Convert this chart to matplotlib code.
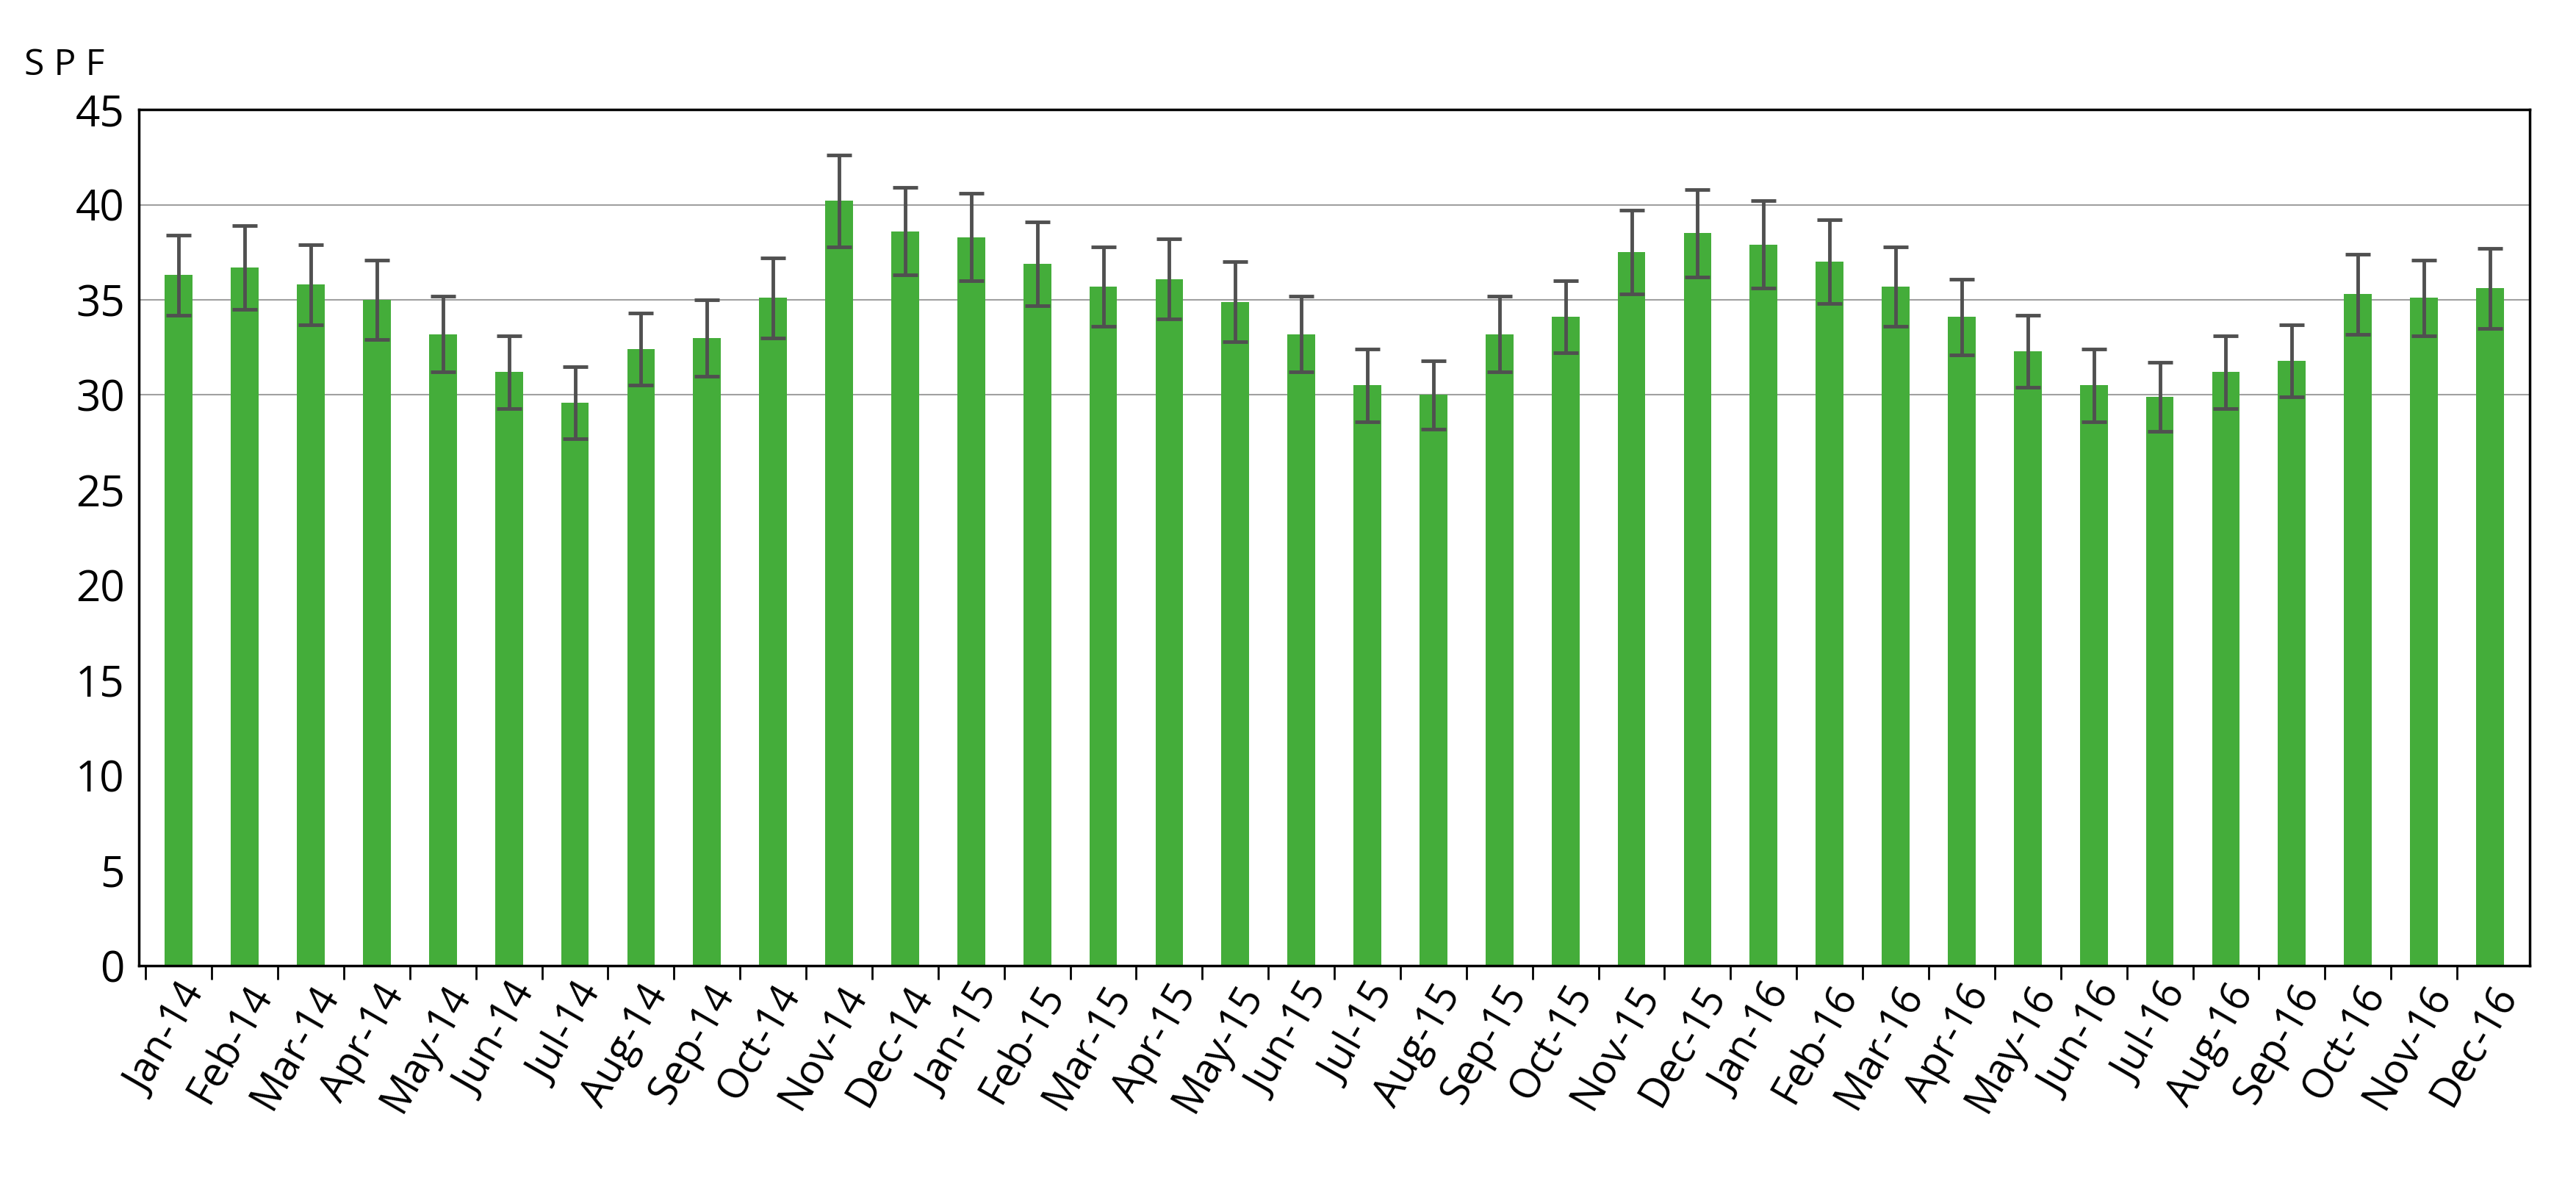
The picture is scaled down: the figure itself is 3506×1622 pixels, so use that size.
import numpy as np
import matplotlib
matplotlib.use("Agg")
from matplotlib import pyplot as plt

plt.rcParams['font.family'] = ['Open Sans', 'DejaVu Sans']

months = ["Jan", "Feb", "Mar", "Apr", "May", "Jun", "Jul", "Aug", "Sep", "Oct", "Nov", "Dec"]
labels = [m + "-" + y for y in ["14", "15", "16"] for m in months]

spf = [36.3, 36.7, 35.8, 35.0, 33.2, 31.2, 29.6, 32.4, 33.0, 35.1, 40.2, 38.6,
       38.3, 36.9, 35.7, 36.1, 34.9, 33.2, 30.5, 30.0, 33.2, 34.1, 37.5, 38.5,
       37.9, 37.0, 35.7, 34.1, 32.3, 30.5, 29.9, 31.2, 31.8, 35.3, 35.1, 35.6]
err = [2.1, 2.2, 2.1, 2.1, 2.0, 1.9, 1.9, 1.9, 2.0, 2.1, 2.4, 2.3,
       2.3, 2.2, 2.1, 2.1, 2.1, 2.0, 1.9, 1.8, 2.0, 1.9, 2.2, 2.3,
       2.3, 2.2, 2.1, 2.0, 1.9, 1.9, 1.8, 1.9, 1.9, 2.1, 2.0, 2.1]
grid_lines = [30, 35, 40]

fig = plt.figure(figsize=(35.06, 16.22), dpi=100)
ax = fig.add_axes([0.054, 0.19, 0.928, 0.718])

x = np.arange(len(labels))
for g in grid_lines:
    ax.axhline(g, color="#a0a0a0", lw=1.5, zorder=0)
ax.bar(x, spf, width=0.42, color="#44ad3a", zorder=2)
ax.errorbar(x, spf, yerr=err, fmt="none", ecolor="#505050", elinewidth=3.5,
            capsize=12, capthick=3.5, zorder=3)

ax.set_xlim(-0.6, len(labels) - 0.4)
ax.set_ylim(0, 45)
ax.set_yticks(range(0, 46, 5))
ax.set_xticks(x - 0.5, minor=True)
ax.set_xticks(x)
ax.set_xticklabels(labels, rotation=60, ha="right", rotation_mode="anchor")
ax.tick_params(axis="x", which="major", length=0, labelsize=40, pad=12)
ax.tick_params(axis="x", which="minor", length=14, width=2, direction="out")
ax.tick_params(axis="y", labelsize=42, length=0, pad=14)
for s in ax.spines.values():
    s.set_linewidth(2.5)
ax.text(-0.048, 1.03, "S P F", transform=ax.transAxes, fontsize=36, ha="left", va="bottom")

fig.savefig("out.png", dpi=100, facecolor="white")
